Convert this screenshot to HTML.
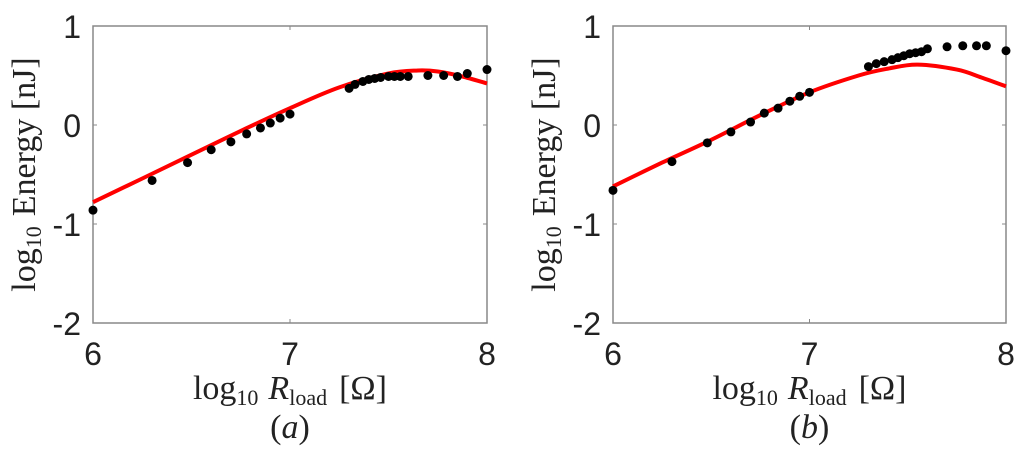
<!DOCTYPE html>
<html><head><meta charset="utf-8"><style>
html,body{margin:0;padding:0;background:#fff;}
svg{display:block;}
.tick{font-family:"Liberation Sans",sans-serif;font-size:32px;fill:#222;}
.ser{font-family:"Liberation Serif",serif;font-size:34px;fill:#222;}
</style></head><body>
<svg id="chart" width="1024" height="457" viewBox="0 0 1024 457" xmlns="http://www.w3.org/2000/svg"></svg>
<script>
const xTicks = [6, 7, 8];
const yTicks = [1, 0, -1, -2];
const yTickLabels = ["1", "0", "-1", "-2"];
const ptsAX = [6, 6.3, 6.48, 6.6, 6.7, 6.78, 6.85, 6.9, 6.95, 7.0, 7.3, 7.33, 7.37, 7.4, 7.43, 7.46, 7.5, 7.53, 7.56, 7.6, 7.7, 7.78, 7.85, 7.9, 8.0];
const ptsAY = [-0.86, -0.56, -0.38, -0.25, -0.17, -0.09, -0.03, 0.02, 0.07, 0.11, 0.37, 0.41, 0.44, 0.46, 0.47, 0.48, 0.49, 0.49, 0.49, 0.49, 0.5, 0.5, 0.49, 0.52, 0.56];
const curveAX = [6, 6.25, 6.5, 6.75, 7, 7.25, 7.5, 7.65, 7.75, 7.875, 8];
const curveAY = [-0.78, -0.54, -0.30, -0.06, 0.17, 0.38, 0.52, 0.55, 0.54, 0.49, 0.42];
const ptsBX = [6, 6.3, 6.48, 6.6, 6.7, 6.77, 6.84, 6.9, 6.95, 7.0, 7.3, 7.34, 7.38, 7.42, 7.45, 7.48, 7.51, 7.54, 7.57, 7.6, 7.7, 7.78, 7.85, 7.9, 8.0];
const ptsBY = [-0.66, -0.37, -0.18, -0.07, 0.03, 0.12, 0.17, 0.24, 0.29, 0.33, 0.59, 0.62, 0.64, 0.66, 0.68, 0.70, 0.72, 0.73, 0.74, 0.77, 0.79, 0.80, 0.80, 0.80, 0.75];
const curveBX = [6, 6.25, 6.5, 6.75, 7, 7.25, 7.4, 7.55, 7.75, 7.875, 8];
const curveBY = [-0.62, -0.38, -0.15, 0.10, 0.33, 0.50, 0.57, 0.61, 0.56, 0.48, 0.39];

const NS = "http://www.w3.org/2000/svg";
const svg = document.getElementById("chart");
function mk(tag, attrs, parent) {
  const e = document.createElementNS(NS, tag);
  for (const k in attrs) e.setAttribute(k, attrs[k]);
  (parent || svg).appendChild(e);
  return e;
}
function smoothPath(P) {
  let d = "M" + P[0][0].toFixed(1) + "," + P[0][1].toFixed(1);
  for (let i = 0; i < P.length - 1; i++) {
    const p0 = P[Math.max(0, i - 1)], p1 = P[i], p2 = P[i + 1], p3 = P[Math.min(P.length - 1, i + 2)];
    const c1 = [p1[0] + (p2[0] - p0[0]) / 6, p1[1] + (p2[1] - p0[1]) / 6];
    const c2 = [p2[0] - (p3[0] - p1[0]) / 6, p2[1] - (p3[1] - p1[1]) / 6];
    d += " C" + c1.map(v => v.toFixed(1)).join(",") + " " + c2.map(v => v.toFixed(1)).join(",") + " " + p2.map(v => v.toFixed(1)).join(",");
  }
  return d;
}
function panel(id, left, right, px, py, cx, cy, letter) {
  const top = 26, bottom = 323;
  const sx = v => left + (v - 6) / 2 * (right - left);
  const sy = v => top + (1 - v) / 3 * (bottom - top);
  const g = mk("g", {});
  
  
  const box = mk("rect", {x: left, y: top, width: right - left, height: bottom - top, fill: "none", stroke: "#888", "stroke-width": 1.5}, g);
  
  
  xTicks.forEach(t => {
    const x = sx(t);
    mk("line", {x1: x, x2: x, y1: bottom, y2: bottom - 4, stroke: "#888"}, g);
    mk("line", {x1: x, x2: x, y1: top, y2: top + 4, stroke: "#888"}, g);
    const tx = mk("text", {x: x, y: 365, "text-anchor": "middle", class: "tick"}, g);
    tx.textContent = t;
    
    
  });
  yTicks.forEach((t, i) => {
    const y = sy(t);
    mk("line", {x1: left, x2: left + 4, y1: y, y2: y, stroke: "#888"}, g);
    mk("line", {x1: right, x2: right - 4, y1: y, y2: y, stroke: "#888"}, g);
    const tx = mk("text", {x: left - 12, y: y + 12, "text-anchor": "end", class: "tick"}, g);
    tx.textContent = yTickLabels[i];
    
    
  });
  const P = cx.map((v, i) => [sx(v), sy(cy[i])]);
  const line = mk("path", {d: smoothPath(P), fill: "none", stroke: "#f00", "stroke-width": 4, "stroke-linejoin": "round"}, g);
  
  
  px.forEach((v, i) => {
    const c = mk("circle", {cx: sx(v), cy: sy(py[i]), r: 4.5, fill: "#000"}, g);
    
    
  });
  const mid = (left + right) / 2;
  const xt = mk("text", {x: mid, y: 399, "text-anchor": "middle", class: "ser"}, g);
  xt.innerHTML = 'log<tspan font-size="22" dy="6">10</tspan><tspan dy="-6" dx="10" font-style="italic">R</tspan><tspan font-size="22" dy="6">load</tspan><tspan dy="-6" dx="12">[Ω]</tspan>';
  
  
  const lt = mk("text", {x: mid, y: 438, "text-anchor": "middle", class: "ser"}, g);
  lt.innerHTML = '(<tspan font-style="italic">' + letter + '</tspan>)';
  
  
  const ycx = left - 58, ycy = (top + bottom) / 2;
  const yt = mk("text", {x: ycx, y: ycy, "text-anchor": "middle", class: "ser", transform: "rotate(-90 " + ycx + " " + ycy + ")"}, g);
  yt.innerHTML = 'log<tspan font-size="22" dy="6">10</tspan><tspan dy="-6" dx="10">Energy [nJ]</tspan>';
  
  
}
panel("a", 93, 487, ptsAX, ptsAY, curveAX, curveAY, "a");
panel("b", 613, 1006, ptsBX, ptsBY, curveBX, curveBY, "b");
</script>
</body></html>
